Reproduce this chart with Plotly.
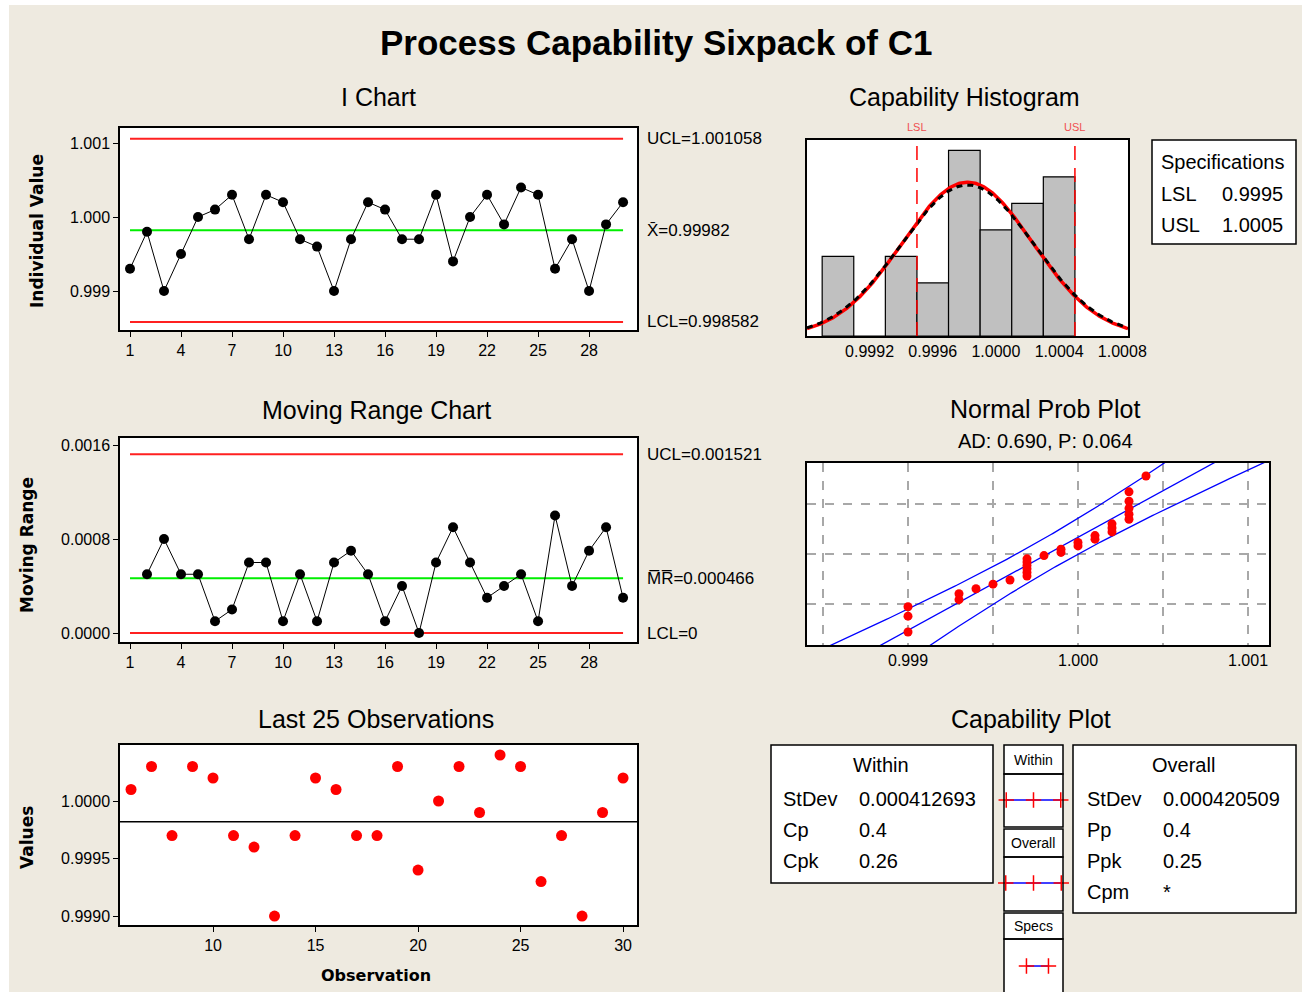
import numpy as np
import plotly.graph_objects as go
from statistics import NormalDist

W, H = 1302, 992

# ---------------- data ----------------
obs = list(range(1, 31))
c1 = [0.9993, 0.9998, 0.9990, 0.9995, 1.0000, 1.0001, 1.0003, 0.9997, 1.0003, 1.0002,
      0.9997, 0.9996, 0.9990, 0.9997, 1.0002, 1.0001, 0.9997, 0.9997, 1.0003, 0.9994,
      1.0000, 1.0003, 0.9999, 1.0004, 1.0003, 0.9993, 0.9997, 0.9990, 0.9999, 1.0002]
mr_obs = list(range(2, 31))
mr = [0.0005, 0.0008, 0.0005, 0.0005, 0.0001, 0.0002, 0.0006, 0.0006, 0.0001, 0.0005,
      0.0001, 0.0006, 0.0007, 0.0005, 0.0001, 0.0004, 0.0000, 0.0006, 0.0009, 0.0006,
      0.0003, 0.0004, 0.0005, 0.0001, 0.0010, 0.0004, 0.0007, 0.0009, 0.0003]
last_obs = obs[5:]
last_vals = c1[5:]

hist_mid = [0.9990, 0.9992, 0.9994, 0.9996, 0.9998, 1.0000, 1.0002, 1.0004]
hist_count = [3, 0, 3, 2, 7, 4, 5, 6]
bin_width = 0.0002

mean = 0.99982
ucl, lcl = 1.001058, 0.998582
mr_bar, mr_ucl, mr_lcl = 0.000466, 0.001521, 0.0
lsl, usl = 0.9995, 1.0005
sd_within, sd_overall = 0.000412693, 0.000420509
ad_text = "AD: 0.690, P: 0.064"

i_xticks = [1, 4, 7, 10, 13, 16, 19, 22, 25, 28]
i_yticks = [0.999, 1.000, 1.001]
mr_yticks = [0.0, 0.0008, 0.0016]
last_xticks = [10, 15, 20, 25, 30]
last_yticks = [0.9990, 0.9995, 1.0000]
hist_xticks = [0.9992, 0.9996, 1.0000, 1.0004, 1.0008]
prob_xticks = [0.9985, 0.999, 0.9995, 1.000, 1.0005, 1.001]
prob_xtext = ["", "0.999", "", "1.000", "", "1.001"]
prob_grid_pct = [0.10, 0.50, 0.90]

within_rows = [("StDev", "0.000412693"), ("Cp", "0.4"), ("Cpk", "0.26")]
overall_rows = [("StDev", "0.000420509"), ("Pp", "0.4"), ("Ppk", "0.25"), ("Cpm", "*")]

# ---------------- helpers ----------------
def px(x):
    return x / W

def py(y):
    return 1 - y / H

FONT = "Liberation Sans"
BG = "#EEEAE0"
nd = NormalDist()

fig = go.Figure()

axis_common = dict(showline=True, linecolor="black", linewidth=1.5, mirror=True,
                   showgrid=False, zeroline=False, ticks="outside", ticklen=5,
                   tickcolor="black", tickwidth=1, automargin=False,
                   tickfont=dict(family=FONT, size=16, color="black"))

# ---------------- I chart ----------------
fig.add_trace(go.Scatter(x=[obs[0], obs[-1]], y=[ucl, ucl], mode="lines",
                         line=dict(color="#FF2020", width=2), xaxis="x", yaxis="y"))
fig.add_trace(go.Scatter(x=[obs[0], obs[-1]], y=[lcl, lcl], mode="lines",
                         line=dict(color="#FF2020", width=2), xaxis="x", yaxis="y"))
fig.add_trace(go.Scatter(x=[obs[0], obs[-1]], y=[mean, mean], mode="lines",
                         line=dict(color="#00EE00", width=2), xaxis="x", yaxis="y"))
fig.add_trace(go.Scatter(x=obs, y=c1, mode="lines+markers",
                         line=dict(color="black", width=1),
                         marker=dict(color="black", size=10, symbol="circle"),
                         xaxis="x", yaxis="y"))

# ---------------- MR chart ----------------
fig.add_trace(go.Scatter(x=[obs[0], obs[-1]], y=[mr_ucl, mr_ucl], mode="lines",
                         line=dict(color="#FF2020", width=2), xaxis="x2", yaxis="y2"))
fig.add_trace(go.Scatter(x=[obs[0], obs[-1]], y=[mr_lcl, mr_lcl], mode="lines",
                         line=dict(color="#FF2020", width=2), xaxis="x2", yaxis="y2"))
fig.add_trace(go.Scatter(x=[obs[0], obs[-1]], y=[mr_bar, mr_bar], mode="lines",
                         line=dict(color="#00EE00", width=2), xaxis="x2", yaxis="y2"))
fig.add_trace(go.Scatter(x=mr_obs, y=mr, mode="lines+markers",
                         line=dict(color="black", width=1),
                         marker=dict(color="black", size=10, symbol="circle"),
                         xaxis="x2", yaxis="y2"))

# ---------------- Last 25 ----------------
fig.add_trace(go.Scatter(x=last_obs, y=last_vals, mode="markers",
                         marker=dict(color="#FF0000", size=11, symbol="circle"),
                         xaxis="x3", yaxis="y3"))

# ---------------- Histogram ----------------
hx_range = [0.998804, 1.000836]
hy_range = [0, 7.39]
fig.add_trace(go.Bar(x=hist_mid, y=hist_count, width=bin_width,
                     marker=dict(color="#C0C0C0", line=dict(color="black", width=1.2)),
                     xaxis="x4", yaxis="y4"))
xs = np.linspace(hx_range[0], hx_range[1], 400)
n = len(c1)
fw = [n * bin_width * NormalDist(mean, sd_within).pdf(v) for v in xs]
fo = [n * bin_width * NormalDist(mean, sd_overall).pdf(v) for v in xs]
fig.add_trace(go.Scatter(x=xs, y=fw, mode="lines", line=dict(color="#FF0000", width=3.5),
                         xaxis="x4", yaxis="y4"))
fig.add_trace(go.Scatter(x=xs, y=fo, mode="lines",
                         line=dict(color="black", width=3, dash="6px,5px"),
                         xaxis="x4", yaxis="y4"))
for s in (lsl, usl):
    fig.add_trace(go.Scatter(x=[s, s], y=hy_range, mode="lines",
                             line=dict(color="#FF0000", width=1.5, dash="14px,8px"),
                             xaxis="x4", yaxis="y4"))

# ---------------- Normal prob plot ----------------
srt = sorted(c1)
zs = [nd.inv_cdf((i - 0.3) / (n + 0.4)) for i in range(1, n + 1)]
zl = np.linspace(-3, 3, 200)
fit = mean + sd_overall * zl
half = np.sqrt(3.3e-8 + 9.4e-9 * zl ** 2)
for xline in (fit - half, fit, fit + half):
    fig.add_trace(go.Scatter(x=xline, y=zl, mode="lines",
                             line=dict(color="#0000FF", width=1.3),
                             xaxis="x5", yaxis="y5"))
fig.add_trace(go.Scatter(x=srt, y=zs, mode="markers",
                         marker=dict(color="#FF0000", size=9, symbol="circle"),
                         xaxis="x5", yaxis="y5"))

# ---------------- Capability plot glyphs ----------------
glyphs = [
    [mean - 3 * sd_within, mean, mean + 3 * sd_within],
    [mean - 3 * sd_overall, mean, mean + 3 * sd_overall],
    [lsl, usl],
]
for row, gx in enumerate(glyphs):
    fig.add_trace(go.Scatter(x=gx, y=[row] * len(gx), mode="lines+markers",
                             line=dict(color="#0000FF", width=1.5),
                             marker=dict(symbol="cross-thin", size=11,
                                         line=dict(color="#FF0000", width=1.5)),
                             cliponaxis=False, xaxis="x6", yaxis="y6"))

# ---------------- layout / axes ----------------
zmax = nd.inv_cdf(0.99)
layout = dict(
    width=W, height=H, autosize=False,
    margin=dict(l=0, r=0, t=0, b=0, pad=0, autoexpand=False),
    paper_bgcolor=BG, plot_bgcolor="white", showlegend=False,
    xaxis=dict(axis_common, domain=[px(120), px(637)], range=[0.412, 30.82],
               tickvals=i_xticks, anchor="y"),
    yaxis=dict(axis_common, domain=[py(330), py(128)], range=[0.998473, 1.001203],
               tickvals=i_yticks, tickformat=".3f", anchor="x"),
    xaxis2=dict(axis_common, domain=[px(120), px(637)], range=[0.412, 30.82],
                tickvals=i_xticks, anchor="y2"),
    yaxis2=dict(axis_common, domain=[py(642), py(438)], range=[-0.0000766, 0.0016596],
                tickvals=mr_yticks, tickformat=".4f", anchor="x2"),
    xaxis3=dict(axis_common, domain=[px(120), px(637)], range=[5.463, 30.68],
                tickvals=last_xticks, anchor="y3"),
    yaxis3=dict(axis_common, domain=[py(925), py(745)], range=[0.998922, 1.000487],
                tickvals=last_yticks, tickformat=".4f", anchor="x3"),
    xaxis4=dict(axis_common, domain=[px(807), px(1128)], range=hx_range,
                tickvals=hist_xticks, tickformat=".4f", ticks="", anchor="y4"),
    yaxis4=dict(axis_common, domain=[py(336), py(140)], range=hy_range,
                showticklabels=False, ticks="", anchor="x4"),
    xaxis5=dict(axis_common, domain=[px(807), px(1269)], range=[0.9984059, 1.0011235],
                tickvals=prob_xticks, ticktext=prob_xtext, ticks="",
                showgrid=True, gridcolor="#A8A8A8", griddash="dash", gridwidth=1.5,
                anchor="y5"),
    yaxis5=dict(axis_common, domain=[py(645), py(463)], range=[-zmax, zmax],
                tickvals=[nd.inv_cdf(p) for p in prob_grid_pct], showticklabels=False,
                ticks="", showgrid=True, gridcolor="#A8A8A8", griddash="dash",
                gridwidth=1.5, anchor="x5"),
    xaxis6=dict(domain=[px(1004), px(1063)], range=[mean - 0.00134, mean + 0.00134],
                visible=False, anchor="y6"),
    yaxis6=dict(domain=[py(992), py(745)], range=[2.313, -0.663], visible=False,
                anchor="x6"),
)
fig.update_layout(**layout)

# ---------------- shapes ----------------
shapes = []
shapes.append(dict(type="rect", xref="paper", yref="paper", x0=0, x1=px(9), y0=0, y1=1,
                   fillcolor="white", line=dict(width=0), layer="below"))
shapes.append(dict(type="rect", xref="paper", yref="paper", x0=0, x1=1, y0=py(5), y1=1,
                   fillcolor="white", line=dict(width=0), layer="below"))
shapes.append(dict(type="line", xref="x3 domain", yref="y3", x0=0, x1=1, y0=mean, y1=mean,
                   line=dict(color="black", width=1.5)))

def box(x0, y0, x1, y1, fill="white", layer="below"):
    shapes.append(dict(type="rect", xref="paper", yref="paper",
                       x0=px(x0), x1=px(x1), y0=py(y1), y1=py(y0),
                       fillcolor=fill, line=dict(color="black", width=1.5), layer=layer))

box(1152, 140, 1296, 244)
box(771, 745, 993, 883)
box(1073, 745, 1296, 913)
for (y0, y1) in [(745, 774), (774, 827), (829, 857), (857, 911), (913, 939), (939, 1000)]:
    box(1004, y0, 1063, y1, fill="rgba(0,0,0,0)", layer="above")
fig.update_layout(shapes=shapes)

# ---------------- annotations ----------------
ann = []

def text(t, x, y, size=16, anchor="center", family=FONT, color="black", angle=0):
    ann.append(dict(text=t, x=px(x), y=py(y), xref="paper", yref="paper",
                    xanchor=anchor, yanchor="middle", showarrow=False, textangle=angle,
                    font=dict(family=family, size=size, color=color)))

text("<b>Process Capability Sixpack of C1</b>", 656, 43, size=35)
for t, x, y in [("I Chart", 378, 97), ("Moving Range Chart", 376, 410),
                ("Last 25 Observations", 376, 719), ("Capability Histogram", 964, 97),
                ("Normal Prob Plot", 1045, 409), ("Capability Plot", 1031, 719)]:
    text(t, x, y, size=25)
text(ad_text, 1045, 441, size=20)
text("<b>Individual Value</b>", 37, 231, size=17, family="DejaVu Sans", angle=-90)
text("<b>Moving Range</b>", 27, 545, size=17, family="DejaVu Sans", angle=-90)
text("<b>Values</b>", 27, 838, size=17, family="DejaVu Sans", angle=-90)
text("<b>Observation</b>", 376, 975, size=16, family="DejaVu Sans")

for t, v in [(f"UCL={ucl:.6f}", ucl), ("X\u0304=0.99982", mean), (f"LCL={lcl:.6f}", lcl)]:
    ann.append(dict(text=t, x=px(645), y=v, xref="paper", yref="y", xanchor="left",
                    yanchor="middle", showarrow=False,
                    font=dict(family=FONT, size=17, color="black")))
for t, v in [(f"UCL={mr_ucl:.6f}", mr_ucl), ("M\u0305R\u0305=0.000466", mr_bar),
             ("LCL=0", mr_lcl)]:
    ann.append(dict(text=t, x=px(645), y=v, xref="paper", yref="y2", xanchor="left",
                    yanchor="middle", showarrow=False,
                    font=dict(family=FONT, size=17, color="black")))

for t, v in [("LSL", lsl), ("USL", usl)]:
    ann.append(dict(text=t, x=v, y=py(127), xref="x4", yref="paper", xanchor="center",
                    yanchor="middle", showarrow=False,
                    font=dict(family=FONT, size=11, color="#F05050")))

text("Specifications", 1159, 162, size=20, anchor="left")
text("LSL", 1159, 194, size=20, anchor="left")
text(f"{lsl:.4f}", 1285, 194, size=20, anchor="right")
text("USL", 1159, 225, size=20, anchor="left")
text(f"{usl:.4f}", 1285, 225, size=20, anchor="right")

text("Within", 881, 765, size=20)
for k, (lab, val) in enumerate(within_rows):
    text(lab, 781, 799 + 31 * k, size=20, anchor="left")
    text(val, 857, 799 + 31 * k, size=20, anchor="left")
text("Overall", 1183, 765, size=20)
for k, (lab, val) in enumerate(overall_rows):
    text(lab, 1085, 799 + 31 * k, size=20, anchor="left")
    text(val, 1161, 799 + 31 * k, size=20, anchor="left")

text("Within", 1033, 760, size=14)
text("Overall", 1033, 843, size=14)
text("Specs", 1033, 926, size=14)

fig.update_layout(annotations=ann)

post = """
document.documentElement.style.margin='0';
document.documentElement.style.padding='0';
document.body.style.margin='0';
document.body.style.padding='0';
document.documentElement.style.overflow='hidden';
document.body.style.overflow='hidden';
var gd=document.getElementById('{plot_id}');
Plotly.relayout(gd,{width:1302,height:992});
"""
fig.write_html("out.html", post_script=post)
